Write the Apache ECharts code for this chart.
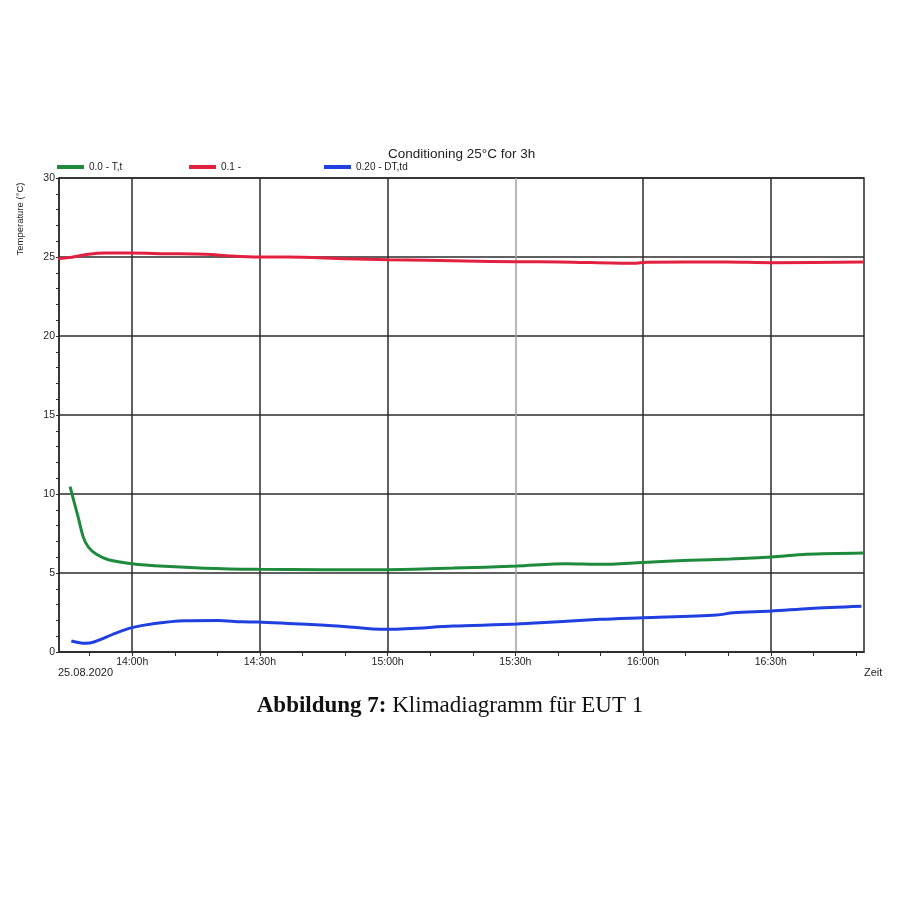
<!DOCTYPE html>
<html>
<head>
<meta charset="utf-8">
<script src="https://cdn.jsdelivr.net/npm/echarts@6/dist/echarts.min.js"></script>
<style>html,body{margin:0;padding:0;background:#fff}#c{width:900px;height:900px}</style>
</head>
<body>
<div id="c"></div>
<script>
const chartTitle = 'Conditioning 25°C for 3h';
const caption = 'Abbildung 7:';
const captionRest = ' Klimadiagramm für EUT 1';
const yAxisTitle = 'Temperature (°C)';
const xAxisTitle = 'Zeit';
const dateLabel = '25.08.2020';
const seriesNames = ['0.0 - T,t', '0.1 -', '0.20 - DT,td'];

const greenTimes = ['13:45:24','13:47:18','13:48:30','13:49:42','13:51:36','13:54:24','13:59:54','14:07:42','14:17:00','14:29:36','14:44:30','15:00:00','15:15:24','15:30:18','15:42:00','15:50:00','16:00:00','16:11:00','16:20:24','16:30:12','16:38:24','16:51:48'];
const greenValues = [10.46,8.53,7.27,6.64,6.18,5.84,5.59,5.42,5.30,5.23,5.21,5.21,5.31,5.44,5.59,5.55,5.67,5.80,5.88,6.01,6.18,6.26];

const redTimes = ['13:42:36','13:45:00','13:49:42','13:53:36','13:59:54','14:07:42','14:17:06','14:23:18','14:29:48','14:36:36','14:50:00','15:00:06','15:18:12','15:30:18','15:40:30','15:57:42','16:00:48','16:19:36','16:30:12','16:51:48'];
const redValues = [24.89,24.96,25.17,25.25,25.25,25.21,25.17,25.06,25.00,25.00,24.89,24.83,24.75,24.70,24.69,24.60,24.67,24.69,24.64,24.69];

const blueTimes = ['13:45:42','13:48:54','13:51:12','13:56:00','13:59:54','14:05:18','14:12:24','14:20:12','14:25:42','14:29:36','14:36:36','14:45:18','14:51:54','14:58:12','15:00:30','15:15:24','15:30:18','15:49:54','16:00:00','16:17:18','16:21:12','16:30:12','16:39:12','16:51:18'];
const blueValues = [0.70,0.55,0.65,1.18,1.54,1.81,1.98,2.00,1.91,1.90,1.81,1.69,1.56,1.44,1.44,1.64,1.77,2.07,2.17,2.34,2.48,2.59,2.76,2.90];

const xRange = ['13:42:48','16:51:54'];
const xLabelTimes = ['14:00','14:30','15:00','15:30','16:00','16:30'];
const xMinorTickTimes = ['13:50','14:00','14:10','14:20','14:30','14:40','14:50','15:00','15:10','15:20','15:30','15:40','15:50','16:00','16:10','16:20','16:30','16:40','16:50'];
const yMin = 0, yMax = 30, yStep = 5;

function toMin(s) { const p = s.split(':').map(Number); return p[0] * 60 + p[1] + (p[2] || 0) / 60; }
function fmt(v) { const r = Math.round(v); const h = Math.floor(r / 60), m = r % 60; return h + ':' + (m < 10 ? '0' : '') + m + 'h'; }
function pairs(ts, vs) { return ts.map((t, i) => [toMin(t), vs[i]]); }

const FONT = 'Liberation Sans, Arial, sans-serif';
const DARK = '#2b2b2b';
const xMin = toMin(xRange[0]), xMax = toMin(xRange[1]);
const majors = xLabelTimes.map(toMin);
const minors = xMinorTickTimes.map(toMin);

const chart = echarts.init(document.getElementById('c'), null, { renderer: 'canvas' });
const legendBase = { icon: 'rect', itemWidth: 27, itemHeight: 4, itemGap: 0, top: 162, padding: 0,
  textStyle: { fontFamily: FONT, fontSize: 10, color: '#222' } };

chart.setOption({
  animation: false,
  backgroundColor: '#fff',
  title: [
    { text: chartTitle, left: 388, top: 147, padding: 0,
      textStyle: { fontFamily: FONT, fontSize: 13.5, fontWeight: 'normal', color: '#222' } },
    { text: '{b|' + caption + '}' + captionRest, left: 'center', top: 693, padding: 0,
      textStyle: { fontFamily: 'Liberation Serif, Times New Roman, serif', fontSize: 23, fontWeight: 'normal', color: '#111', lineHeight: 26,
        rich: { b: { fontFamily: 'Liberation Serif, Times New Roman, serif', fontSize: 23, fontWeight: 'bold', color: '#111', lineHeight: 26 } } } }
  ],
  legend: [
    Object.assign({}, legendBase, { data: [seriesNames[0]], left: 57 }),
    Object.assign({}, legendBase, { data: [seriesNames[1]], left: 189 }),
    Object.assign({}, legendBase, { data: [seriesNames[2]], left: 324 })
  ],
  grid: { left: 59, right: 36, top: 178, bottom: 248, show: true, borderColor: DARK, borderWidth: 1.5, backgroundColor: 'transparent' },
  xAxis: [
    {
      type: 'value', min: xMin, max: xMax,
      name: xAxisTitle, nameLocation: 'end', nameGap: 0,
      nameTextStyle: { fontFamily: FONT, fontSize: 11, color: '#222', align: 'left', verticalAlign: 'top', padding: [15, 0, 0, 0] },
      axisLine: { show: true, lineStyle: { color: DARK, width: 1.5 } },
      axisTick: { show: true, customValues: majors, length: 4, lineStyle: { color: DARK } },
      axisLabel: { customValues: majors, formatter: fmt, fontFamily: FONT, fontSize: 10.5, color: '#222', margin: 5 },
      splitLine: { show: true, lineStyle: { color: [DARK, DARK, DARK, '#a0a0a0', DARK, DARK], width: 1.5 } }
    },
    {
      type: 'value', min: xMin, max: xMax, position: 'bottom',
      axisLine: { show: false },
      axisTick: { show: true, customValues: minors, length: 4, lineStyle: { color: DARK } },
      axisLabel: { show: false },
      splitLine: { show: false }
    }
  ],
  yAxis: {
    type: 'value', min: yMin, max: yMax, interval: yStep,
    axisLine: { show: true, lineStyle: { color: DARK, width: 1.5 } },
    axisTick: { show: true, length: 3, lineStyle: { color: DARK } },
    minorTick: { show: true, splitNumber: 5, length: 3, lineStyle: { color: DARK } },
    axisLabel: { fontFamily: FONT, fontSize: 10.5, color: '#222', margin: 4 },
    splitLine: { show: true, lineStyle: { color: DARK, width: 1.5 } }
  },
  graphic: [
    { type: 'text', x: 20, y: 219, rotation: Math.PI / 2,
      style: { text: yAxisTitle, fontFamily: FONT, fontSize: 9.5, fill: '#222', align: 'center', verticalAlign: 'middle' } },
    { type: 'text', x: 58, y: 673,
      style: { text: dateLabel, fontFamily: FONT, fontSize: 11, fill: '#222', align: 'left', verticalAlign: 'middle' } }
  ],
  series: [
    { name: seriesNames[0], type: 'line', xAxisIndex: 0, data: pairs(greenTimes, greenValues), smooth: 0.3, showSymbol: false,
      itemStyle: { color: '#1e8a3c' }, lineStyle: { color: '#1e8a3c', width: 3 } },
    { name: seriesNames[1], type: 'line', xAxisIndex: 0, data: pairs(redTimes, redValues), smooth: 0.3, showSymbol: false,
      itemStyle: { color: '#e3203f' }, lineStyle: { color: '#e3203f', width: 3 } },
    { name: seriesNames[2], type: 'line', xAxisIndex: 0, data: pairs(blueTimes, blueValues), smooth: 0.3, showSymbol: false,
      itemStyle: { color: '#1f3fe0' }, lineStyle: { color: '#1f3fe0', width: 3 } }
  ]
});
</script>
</body>
</html>
